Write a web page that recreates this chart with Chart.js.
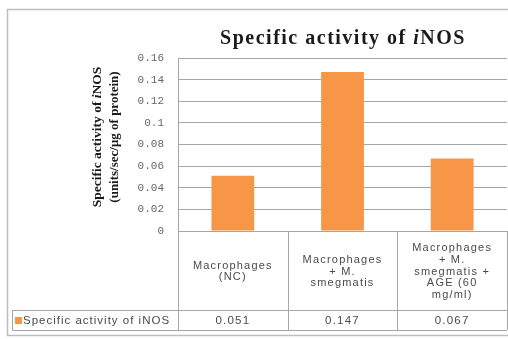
<!DOCTYPE html>
<html>
<head>
<meta charset="utf-8">
<script src="https://cdn.jsdelivr.net/npm/chart.js@4"></script>
<style>
  html, body { margin: 0; padding: 0; background: #fff; }
  #wrap { width: 508px; height: 339px; }
</style>
</head>
<body>
<div id="wrap"><canvas id="inosChart" width="508" height="339"></canvas></div>
<script>
const categories = [
  ["Macrophages", "(NC)"],
  ["Macrophages", "+ M.", "smegmatis"],
  ["Macrophages", "+ M.", "smegmatis +", "AGE (60", "mg/ml)"],
];
const values = [0.051, 0.147, 0.067];
const valueLabels = ["0.051", "0.147", "0.067"];
const seriesName = "Specific activity of iNOS";
const yMax = 0.16;
const yStep = 0.02;

const barColor = "#f79646";
const lineColor = "#a6a6a6";
const textColor = "#4a4a4a";

// draws a line of text made of [text, italic] pieces, centred on 0,0
const drawRich = (ctx, parts, size, spacing) => {
  ctx.letterSpacing = spacing + "px";
  let total = 0;
  parts.forEach((p) => {
    ctx.font = (p[1] ? "italic " : "") + "bold " + size + "px 'Liberation Serif'";
    total += ctx.measureText(p[0]).width;
  });
  let x = -total / 2;
  parts.forEach((p) => {
    ctx.font = (p[1] ? "italic " : "") + "bold " + size + "px 'Liberation Serif'";
    ctx.fillText(p[0], x, 0);
    x += ctx.measureText(p[0]).width;
  });
  ctx.letterSpacing = "0px";
};

const tablePlugin = {
  id: "tablePlugin",
  beforeDraw(chart) {
    const ctx = chart.ctx;
    ctx.save();
    ctx.fillStyle = "#fff";
    ctx.fillRect(0, 0, chart.width, chart.height);
    ctx.strokeStyle = "#bdbdbd";
    ctx.lineWidth = 1.5;
    ctx.strokeRect(7.5, 9.5, 510, 326);
    ctx.restore();
  },
  afterDraw(chart) {
    const ctx = chart.ctx;
    const area = chart.chartArea;
    const xs = chart.scales.x;
    const colW = area.width / categories.length;
    const rowTop = area.bottom;
    const rowMid = 310;
    const rowBot = 330;

    ctx.save();
    ctx.strokeStyle = lineColor;
    ctx.lineWidth = 1;
    ctx.beginPath();
    for (let i = 0; i <= categories.length; i++) {
      const x = Math.round(area.left + i * colW) + 0.5;
      ctx.moveTo(x, rowTop);
      ctx.lineTo(x, rowBot);
    }
    ctx.moveTo(12.5, rowMid + 0.5);
    ctx.lineTo(area.right, rowMid + 0.5);
    ctx.moveTo(12.5, rowBot + 0.5);
    ctx.lineTo(area.right, rowBot + 0.5);
    ctx.moveTo(12.5, rowMid);
    ctx.lineTo(12.5, rowBot);
    ctx.stroke();

    // category labels
    ctx.fillStyle = textColor;
    ctx.textAlign = "center";
    ctx.textBaseline = "middle";
    ctx.font = "11px 'Liberation Sans'";
    ctx.letterSpacing = "1.2px";
    const lh = 11.8;
    categories.forEach((lines, i) => {
      const cx = xs.getPixelForValue(i);
      const cy = (rowTop + rowMid) / 2 + 1;
      lines.forEach((t, j) => {
        ctx.fillText(t, cx, cy + (j - (lines.length - 1) / 2) * lh);
      });
      ctx.font = "11.5px 'Liberation Sans'";
      ctx.fillText(valueLabels[i], cx, (rowMid + rowBot) / 2 + 1);
      ctx.font = "11px 'Liberation Sans'";
    });

    // legend key
    ctx.fillStyle = barColor;
    ctx.fillRect(15, 317, 7, 7);
    ctx.fillStyle = textColor;
    ctx.textAlign = "left";
    ctx.font = "11.5px 'Liberation Sans'";
    ctx.letterSpacing = "1px";
    ctx.fillText(seriesName, 23, (rowMid + rowBot) / 2 + 1);
    ctx.letterSpacing = "0px";

    // main title
    ctx.fillStyle = "#1a1a1a";
    ctx.textAlign = "left";
    ctx.textBaseline = "middle";
    ctx.translate(343, 39);
    drawRich(ctx, [["Specific activity of ", false], ["i", true], ["NOS", false]], 20, 1.5);
    ctx.setTransform(1, 0, 0, 1, 0, 0);

    // y axis title
    ctx.translate(98, 137);
    ctx.rotate(-Math.PI / 2);
    drawRich(ctx, [["Specific activity of ", false], ["i", true], ["NOS", false]], 13.5, 0);
    ctx.translate(0, 17);
    drawRich(ctx, [["(units/sec/\u03bcg of protein)", false]], 13, 0);
    ctx.restore();
  },
};

new Chart(document.getElementById("inosChart"), {
  type: "bar",
  data: {
    labels: categories,
    datasets: [
      {
        label: seriesName,
        data: values,
        backgroundColor: barColor,
        borderWidth: 0,
        categoryPercentage: 1,
        barPercentage: 0.39,
      },
    ],
  },
  options: {
    responsive: false,
    animation: false,
    layout: { padding: { top: 58, right: 1, left: 0, bottom: 0 } },
    plugins: {
      legend: { display: false },
      title: { display: false },
      tooltip: { enabled: false },
    },
    scales: {
      x: {
        ticks: { display: false },
        grid: { display: false },
        border: { display: true, color: lineColor },
        afterFit: (scale) => {
          scale.height = 108;
        },
      },
      y: {
        min: 0,
        max: yMax,
        ticks: {
          stepSize: yStep,
          padding: 14,
          color: "#666",
          font: { family: "'Liberation Mono'", size: 11 },
          callback: (v) => Number(v.toFixed(2)).toString(),
        },
        grid: { color: lineColor, drawTicks: false },
        border: { display: true, color: lineColor },
        afterFit: (scale) => {
          scale.width = 178;
        },
      },
    },
  },
  plugins: [tablePlugin],
});
</script>
</body>
</html>
